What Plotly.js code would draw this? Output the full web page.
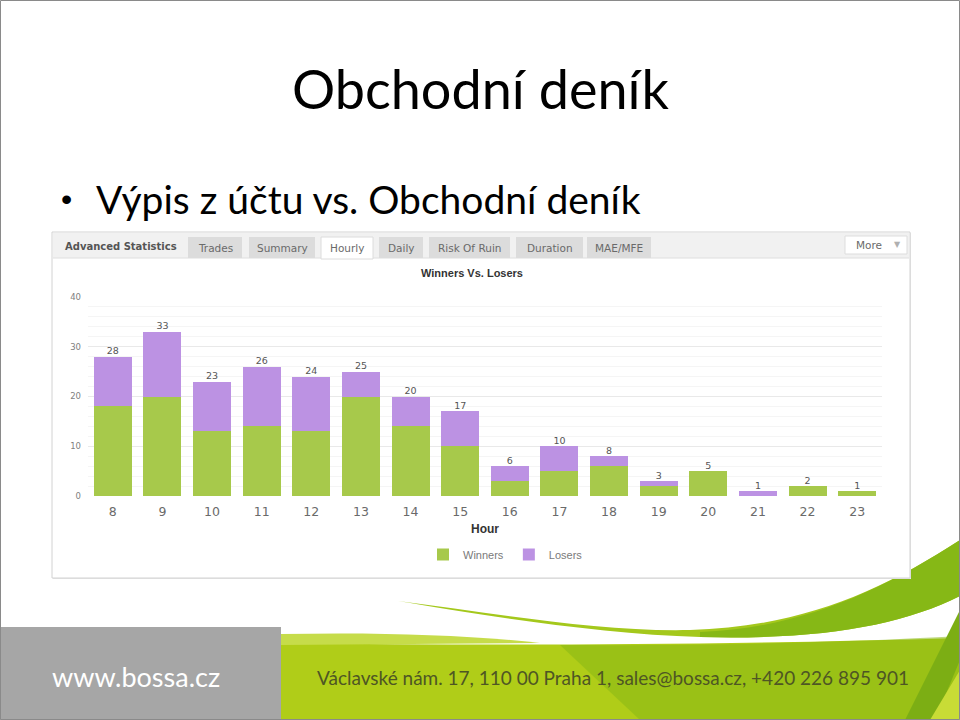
<!DOCTYPE html>
<html>
<head>
<meta charset="utf-8">
<script src="https://cdn.plot.ly/plotly-3.0.1.min.js"></script>
<style>html,body{margin:0;padding:0;background:#fff;}#chart{width:960px;height:720px;}</style>
</head>
<body>
<div id="chart"></div>
<script>
// ---- data ----
const hours = ['8','9','10','11','12','13','14','15','16','17','18','19','20','21','22','23'];
const winners = [18,20,13,14,13,20,14,10,3,5,6,2,5,0,2,1];
const losers  = [10,13,10,12,11,5,6,7,3,5,2,1,0,1,0,0];
const totals  = [28,33,23,26,24,25,20,17,6,10,8,3,5,1,2,1];
const tabs = ['Trades','Summary','Hourly','Daily','Risk Of Ruin','Duration','MAE/MFE'];
const activeTab = 'Hourly';

// ---- pixel -> paper helpers (plot area) ----
const L=88,R=882,T=297,B=496;
const X=p=>(p-L)/(R-L), Y=p=>(B-p)/(B-T);
function rect(x0,y0,x1,y1,fill,line,lw){
  return {type:'rect',xref:'paper',yref:'paper',x0:X(x0),x1:X(x1),y0:Y(y1),y1:Y(y0),
    fillcolor:fill,line:{color:line||'rgba(0,0,0,0)',width:line?(lw||1):0},layer:'below'};
}
function path(cmds,fill){
  let s='';
  cmds.forEach(c=>{s+=c[0];for(let i=1;i<c.length;i+=2){s+=X(c[i]).toFixed(5)+','+Y(c[i+1]).toFixed(5)+' ';}});
  s+='Z';
  return {type:'path',xref:'paper',yref:'paper',path:s,fillcolor:fill,line:{width:0},layer:'below'};
}
function txt(x,y,t,size,color,o){
  o=o||{};
  return Object.assign({xref:'paper',yref:'paper',x:X(x),y:Y(y),text:t,showarrow:false,
    xanchor:'center',yanchor:'middle',font:{size:size,color:color,family:o.family||'Liberation Sans, Arial, sans-serif'}},o.extra||{});
}
const slideFont = "Lato, 'Open Sans', sans-serif";
const uiFont = "'DejaVu Sans', 'Liberation Sans', sans-serif";

// ---- decorative shapes ----
const shapes = [];
// footer green area
shapes.push(path([['M',281,643],['C',500,646,720,645,960,638],['L',960,720],['L',281,720]],'#b0cd18'));
shapes.push(path([['M',560,645],['C',720,646,850,642,960,636],['L',960,720],['L',640,720]],'rgba(136,184,22,0.55)'));
shapes.push(path([['M',281,634],['C',380,632,470,635,540,643],['L',281,645]],'#c6dc4a'));
// upper swoosh
shapes.push(path([['M',398,601],['C',500,614,600,632,690,630],['C',800,627,880,592,960,540],['L',960,596],['C',900,626,820,640,700,637],['C',600,634,480,615,398,601]],'#a4c81c'));
shapes.push(path([['M',700,632],['C',800,628,880,592,960,540],['L',960,596],['C',900,626,820,640,700,637]],'#86b816'));
// right diagonal
shapes.push(path([['M',905,720],['L',960,610],['L',960,660],['L',935,720]],'#7cae14'));
shapes.push(path([['M',930,720],['L',960,670],['L',960,720]],'#c8dc36'));
// footer grey box
shapes.push(rect(0,627,281,720,'#a6a6a6'));
// chart panel
shapes.push(rect(53,233,911,579,'#e6e6e6'));
shapes.push(rect(52,232,910,578,'#ffffff','#d2d2d2'));
shapes.push(rect(53,233,909,258,'#f1f1f1'));
shapes.push({type:'line',xref:'paper',yref:'paper',x0:X(53),x1:X(909),y0:Y(258),y1:Y(258),line:{color:'#dedede',width:1},layer:'below'});
// tabs
const tabX = [[188,242],[249,315],[321,373],[379,423],[429,510],[516,583],[587,651]];
const annotations = [];
tabs.forEach((t,i)=>{
  const a = tabX[i];
  if (t===activeTab) shapes.push(rect(a[0],237,a[1],259,'#ffffff','#dcdcdc'));
  else shapes.push(rect(a[0],237,a[1],258,'#dcdcdc'));
  annotations.push(txt((a[0]+a[1])/2,247.5,t,10.5,'#6a6a6a',{family:uiFont}));
});
shapes.push(rect(845,236,907,254,'#ffffff','#dddddd'));
annotations.push(txt(869,245,'More',10.5,'#6a6a6a',{family:uiFont}));
annotations.push(txt(897,244,'▼',8,'#b0b0b0',{family:uiFont}));
annotations.push(txt(63,246.5,'<b>Advanced Statistics</b>',10,'#555555',{family:uiFont,extra:{xanchor:'left'}}));
// slide border
shapes.push({type:'rect',xref:'paper',yref:'paper',x0:X(0.5),x1:X(959.5),y0:Y(719.5),y1:Y(0.5),line:{color:'#8a8a8a',width:1},fillcolor:'rgba(0,0,0,0)',layer:'above'});

// slide texts
annotations.push(txt(480,89,'Obchodní deník',54,'#000000',{family:slideFont}));
annotations.push(txt(66,199,'•',32,'#000000',{family:'Liberation Sans, Arial'}));
annotations.push(txt(94,199,'Výpis z účtu vs. Obchodní deník',39,'#000000',{family:slideFont,extra:{xanchor:'left'}}));
annotations.push(txt(136,676,'www.bossa.cz',27,'#ffffff',{family:slideFont}));
annotations.push(txt(613,677,'Václavské nám. 17, 110 00 Praha 1, sales@bossa.cz, +420 226 895 901',19,'#4e5624',{family:slideFont}));
// chart texts
annotations.push(txt(472,273,'<b>Winners Vs. Losers</b>',11,'#333333',{family:'Liberation Sans, Arial'}));
annotations.push(txt(485,529,'<b>Hour</b>',12,'#333333',{family:'Liberation Sans, Arial'}));

const traces = [
  {type:'bar',name:'Winners',x:hours,y:winners,marker:{color:'#a7c94b'},hoverinfo:'none'},
  {type:'bar',name:'Losers',x:hours,y:losers,marker:{color:'#bc92e3'},hoverinfo:'none'},
  {type:'scatter',mode:'text',x:hours,y:totals,text:totals.map(String),textposition:'top center',
   textfont:{size:9.5,color:'#555555',family:uiFont},showlegend:false,hoverinfo:'none'}
];

const layout = {
  width:960,height:720,
  margin:{l:L,r:960-R,t:T,b:720-B,pad:0},
  paper_bgcolor:'#ffffff',plot_bgcolor:'rgba(0,0,0,0)',
  barmode:'stack',bargap:0.234,
  showlegend:true,
  legend:{orientation:'h',x:X(423),y:Y(540),xanchor:'left',yanchor:'top',
    font:{size:11,color:'#7a7a7a',family:'Liberation Sans, Arial'},bgcolor:'rgba(0,0,0,0)',traceorder:'normal',itemwidth:30},
  xaxis:{type:'category',range:[-0.5,15.5],showgrid:false,zeroline:false,showline:false,ticks:'',
    tickfont:{size:12.5,color:'#6a6a6a',family:uiFont},ticklabelstandoff:6,fixedrange:true},
  yaxis:{range:[0,40],dtick:10,showgrid:true,gridcolor:'#e9e9e9',zeroline:false,showline:false,ticks:'',
    tickfont:{size:8.5,color:'#808080',family:uiFont},ticklabelstandoff:6,fixedrange:true,
    minor:{dtick:2,showgrid:true,gridcolor:'#f5f5f5'}},
  shapes:shapes,annotations:annotations
};
Plotly.newPlot('chart',traces,layout,{staticPlot:true,displayModeBar:false});
</script>
</body>
</html>
